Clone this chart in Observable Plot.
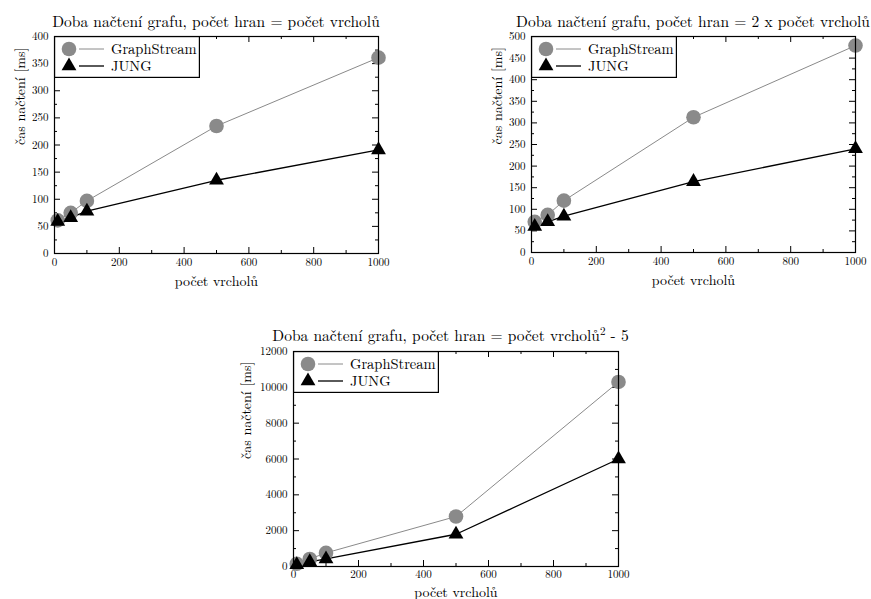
<!DOCTYPE html>
<html><head><meta charset="utf-8">
<script src="https://cdn.jsdelivr.net/npm/d3@7"></script>
<script src="https://cdn.jsdelivr.net/npm/@observablehq/plot@0.6"></script>
<style>
body{margin:0;background:#fff;}
#root{position:relative;width:871px;height:599px;overflow:hidden;font-family:'Latin Modern Roman','Liberation Serif',serif;color:#000;}
.chart{position:absolute;}
.title{position:absolute;white-space:nowrap;font-size:15.5px;transform:translateX(-50%);line-height:1;font-family:'Latin Modern Roman','Liberation Serif',serif;}
.title sup{font-size:11px;}
.legend{position:absolute;}
</style></head><body><div id="root"></div>
<script>
const vertexCounts = [10, 50, 100, 500, 1000];
const seriesNames = ["GraphStream", "JUNG"];
const titles = [
  "Doba načtení grafu, počet hran = počet vrcholů",
  "Doba načtení grafu, počet hran = 2 x počet vrcholů",
  "Doba načtení grafu, počet hran = počet vrcholů<sup>2</sup> - 5"
];
const xLabel = "počet vrcholů";
const yLabel = "čas načtení [ms]";
const graphStream1 = [61, 75, 97, 235, 361];
const jung1 = [59, 66, 78, 135, 191];
const graphStream2 = [71, 87, 120, 313, 479];
const jung2 = [60, 71, 84, 164, 240];
const graphStream3 = [150, 420, 760, 2790, 10300];
const jung3 = [100, 260, 420, 1800, 6000];
const xMajorTicks = [0, 200, 400, 600, 800, 1000];
const xMinorTicks = [100, 300, 500, 700, 900];
const yMajor1 = [0, 50, 100, 150, 200, 250, 300, 350, 400];
const yMinor1 = [25, 75, 125, 175, 225, 275, 325, 375];
const yMajor2 = [0, 50, 100, 150, 200, 250, 300, 350, 400, 450, 500];
const yMinor2 = [25, 75, 125, 175, 225, 275, 325, 375, 425, 475];
const yMajor3 = [0, 2000, 4000, 6000, 8000, 10000, 12000];
const yMinor3 = [1000, 3000, 5000, 7000, 9000, 11000];

const GRAY = "#8a8a8a";
const FONT = "'Latin Modern Roman', 'Liberation Serif', serif";
const root = document.getElementById("root");

function makeChart(cfg) {
  const {left, top, width, height, mt, mr, mb, ml, yMax, yMajor, yMinor, gs, jung, title, yLabelDx, xLabelDy, titleDx, titleDy, tickPad} = cfg;
  const iw = width - ml - mr, ih = height - mt - mb;
  const gsData = vertexCounts.map((x, i) => ({x, y: gs[i]}));
  const jData = vertexCounts.map((x, i) => ({x, y: jung[i]}));
  const plot = Plot.plot({
    width, height, marginTop: mt, marginRight: mr, marginBottom: mb, marginLeft: ml,
    style: {fontFamily: FONT, fontSize: "11px", background: "transparent", color: "#000"},
    x: {domain: [0, 1000], ticks: xMajorTicks, tickSize: 0, tickPadding: tickPad, label: null, tickFormat: d => String(d)},
    y: {domain: [0, yMax], ticks: yMajor, tickSize: 0, tickPadding: 6, label: null, tickFormat: d => String(d)},
    marks: [
      Plot.tickX(xMajorTicks, {x: d => d, insetTop: ih - 6, stroke: "#000"}),
      Plot.tickX(xMajorTicks, {x: d => d, insetBottom: ih - 6, stroke: "#000"}),
      Plot.tickX(xMinorTicks, {x: d => d, insetTop: ih - 3, stroke: "#000"}),
      Plot.tickX(xMinorTicks, {x: d => d, insetBottom: ih - 3, stroke: "#000"}),
      Plot.tickY(yMajor, {y: d => d, insetRight: iw - 6, stroke: "#000"}),
      Plot.tickY(yMajor, {y: d => d, insetLeft: iw - 6, stroke: "#000"}),
      Plot.tickY(yMinor, {y: d => d, insetRight: iw - 3, stroke: "#000"}),
      Plot.tickY(yMinor, {y: d => d, insetLeft: iw - 3, stroke: "#000"}),
      Plot.line(gsData, {x: "x", y: "y", stroke: GRAY, strokeWidth: 1}),
      Plot.line(jData, {x: "x", y: "y", stroke: "#000", strokeWidth: 1.3}),
      Plot.dot(gsData, {x: "x", y: "y", r: 7.3, fill: GRAY, stroke: "none"}),
      Plot.dot(jData, {x: "x", y: "y", r: 5.5, symbol: "triangle", fill: "#000", stroke: "none"}),
      Plot.frame({stroke: "#000", strokeWidth: 1.2}),
      Plot.text([yLabel], {frameAnchor: "left", rotate: -90, dx: yLabelDx, fontSize: 14, lineAnchor: "middle"}),
      Plot.text([xLabel], {frameAnchor: "bottom", dy: xLabelDy, fontSize: 14, lineAnchor: "middle"})
    ]
  });
  plot.classList.add("chart");
  plot.style.left = left + "px";
  plot.style.top = top + "px";
  plot.style.fontFamily = FONT;
  root.appendChild(plot);

  const t = document.createElement("div");
  t.className = "title";
  t.innerHTML = title;
  t.style.left = (left + ml + iw / 2 + titleDx) + "px";
  t.style.top = (top + mt - 23 + titleDy) + "px";
  root.appendChild(t);

  const lw = 146, lh = 42;
  const ns = "http://www.w3.org/2000/svg";
  const svg = document.createElementNS(ns, "svg");
  svg.setAttribute("width", lw); svg.setAttribute("height", lh);
  svg.classList.add("legend");
  svg.style.left = (left + ml) + "px";
  svg.style.top = (top + mt) + "px";
  svg.style.fontFamily = FONT;
  svg.innerHTML = `
    <rect x="0.6" y="0.6" width="${lw - 1.2}" height="${lh - 1.2}" fill="#fff" stroke="#000" stroke-width="1.2"/>
    <circle cx="15" cy="13" r="7.3" fill="${GRAY}"/>
    <line x1="25" y1="13" x2="50" y2="13" stroke="${GRAY}" stroke-width="1"/>
    <text x="57" y="13" dy="0.35em" font-size="14.5">${seriesNames[0]}</text>
    <path d="${d3.symbol(d3.symbolTriangle, Math.PI * 5.5 * 5.5)()}" transform="translate(15,30)" fill="#000"/>
    <line x1="25" y1="30" x2="50" y2="30" stroke="#000" stroke-width="1.3"/>
    <text x="57" y="30" dy="0.35em" font-size="14.5">${seriesNames[1]}</text>`;
  root.appendChild(svg);
}

makeChart({left: 0, top: 0, width: 400, height: 295, mt: 36, mr: 22, mb: 42, ml: 54,
  yMax: 400, yMajor: yMajor1, yMinor: yMinor1, gs: graphStream1, jung: jung1, title: titles[0],
  yLabelDx: -34, xLabelDy: 28, titleDx: 0, titleDy: 0, tickPad: 5});
makeChart({left: 435, top: 0, width: 436, height: 295, mt: 36, mr: 16, mb: 43, ml: 96,
  yMax: 500, yMajor: yMajor2, yMinor: yMinor2, gs: graphStream2, jung: jung2, title: titles[1],
  yLabelDx: -34, xLabelDy: 28, titleDx: 0, titleDy: 0, tickPad: 5});
makeChart({left: 228, top: 300, width: 412, height: 299, mt: 51, mr: 22, mb: 33, ml: 65,
  yMax: 12000, yMajor: yMajor3, yMinor: yMinor3, gs: graphStream3, jung: jung3, title: titles[2],
  yLabelDx: -47, xLabelDy: 26, titleDx: -5, titleDy: -3, tickPad: 4});
</script>
</body></html>
